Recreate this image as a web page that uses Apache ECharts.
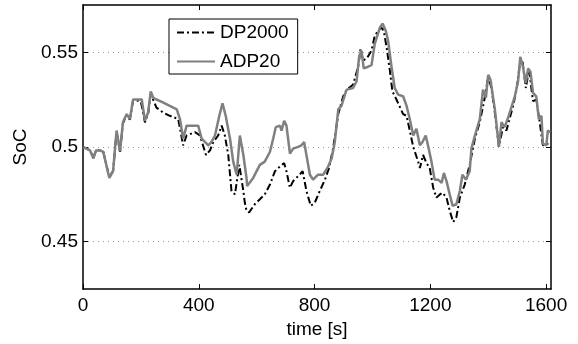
<!DOCTYPE html>
<html><head><meta charset="utf-8">
<script src="https://cdn.jsdelivr.net/npm/echarts@6/dist/echarts.min.js"></script>
<style>html,body{margin:0;padding:0;background:#fff}#c{width:578px;height:344px}</style>
</head><body><div id="c"></div>
<script>
const xTicks = [0, 400, 800, 1200, 1600];
const yTicks = [0.45, 0.5, 0.55];
const seriesNames = ['DP2000', 'ADP20'];

const dpTime = [1,24,36,45,59,70,91,104,116,128,138,151,162,173,190,200,214,225,234,254,277,300,329,346,358,387,404,425,439,450,467,479,490,502,513,525,540,554,559,565,574,594,611,628,646,663,680,695,703,715,726,743,759,772,787,801,818,836,850,864,882,899,911,933,951,959,968,980,997,1008,1020,1031,1039,1049,1060,1069,1083,1106,1118,1129,1141,1158,1164,1175,1187,1198,1210,1221,1233,1242,1256,1267,1279,1290,1302,1319,1336,1354,1371,1388,1400,1411,1423,1437,1451,1463,1486,1498,1509,1518,1530,1541,1555,1566,1578,1589,1606,1615];
const dpSoC = [0.500,0.4983,0.4945,0.4982,0.4983,0.4975,0.4840,0.4875,0.5080,0.4975,0.5125,0.5170,0.5145,0.5245,0.5245,0.5240,0.5130,0.5175,0.5280,0.5208,0.5182,0.5165,0.5148,0.5009,0.5061,0.5079,0.5061,0.4958,0.4983,0.5027,0.5061,0.5113,0.5061,0.4958,0.4768,0.4750,0.4906,0.4768,0.4707,0.4664,0.4655,0.4699,0.4724,0.4750,0.4802,0.4872,0.4897,0.4915,0.4872,0.4785,0.4820,0.4846,0.4872,0.4768,0.4690,0.4707,0.4768,0.4828,0.4889,0.4992,0.5174,0.5268,0.5303,0.5329,0.5424,0.5519,0.5458,0.5467,0.5510,0.5588,0.5614,0.5631,0.5614,0.5527,0.5407,0.5294,0.5251,0.5174,0.5165,0.5087,0.5001,0.4923,0.4889,0.4958,0.4915,0.4889,0.4785,0.4733,0.4750,0.4759,0.4733,0.4664,0.4604,0.4630,0.4733,0.4802,0.4906,0.5044,0.5131,0.5260,0.5372,0.5313,0.5182,0.5001,0.5105,0.5087,0.5217,0.5303,0.5433,0.5458,0.5312,0.5407,0.5242,0.5251,0.5131,0.5009,0.5018,0.5027];

const adpTime = [1,24,36,45,59,70,91,104,116,128,138,151,162,173,190,203,214,225,234,243,254,276,300,324,335,346,358,398,410,421,433,444,456,471,482,493,508,519,531,542,554,565,567,588,611,628,646,657,666,680,686,695,703,715,726,743,755,764,772,784,795,812,830,847,859,870,882,893,905,911,933,945,954,962,970,985,997,1008,1026,1035,1046,1054,1066,1077,1089,1106,1118,1129,1141,1152,1164,1173,1184,1192,1204,1215,1227,1239,1247,1256,1267,1277,1290,1302,1311,1323,1336,1342,1354,1371,1382,1392,1400,1408,1423,1434,1437,1446,1457,1469,1492,1503,1511,1520,1530,1538,1546,1555,1566,1575,1584,1589,1601,1606,1615];
const adpSoC = [0.500,0.4983,0.4940,0.4982,0.4983,0.4975,0.4837,0.4873,0.5087,0.4977,0.5132,0.5174,0.5148,0.5251,0.5251,0.5251,0.5139,0.5182,0.5294,0.5260,0.5251,0.5236,0.5217,0.5199,0.5148,0.5044,0.5113,0.5113,0.5044,0.5027,0.5009,0.5027,0.5061,0.5165,0.5231,0.5165,0.5044,0.4923,0.4854,0.5061,0.4958,0.4837,0.4794,0.4837,0.4906,0.4923,0.4975,0.5044,0.5105,0.5113,0.5087,0.5139,0.5113,0.4966,0.4992,0.5001,0.5009,0.5027,0.4958,0.4854,0.4828,0.4854,0.4854,0.4897,0.4940,0.5027,0.5199,0.5217,0.5277,0.5303,0.5312,0.5346,0.5476,0.5510,0.5415,0.5424,0.5433,0.5545,0.5631,0.5652,0.5614,0.5562,0.5424,0.5312,0.5277,0.5268,0.5217,0.5148,0.5061,0.5096,0.5009,0.5027,0.5061,0.5009,0.4923,0.4828,0.4828,0.4811,0.4863,0.4820,0.4750,0.4690,0.4698,0.4768,0.4854,0.4828,0.4872,0.4992,0.5061,0.5148,0.5303,0.5260,0.5381,0.5355,0.5199,0.5044,0.5001,0.5131,0.5105,0.5156,0.5268,0.5346,0.5476,0.5424,0.5338,0.5415,0.5398,0.5286,0.5268,0.5148,0.5165,0.5018,0.5009,0.5087,0.5079];

const xMin = 0, xMax = 1617, yMin = 0.425, yMax = 0.575;
const FONT = "'Liberation Sans', Arial, Helvetica, sans-serif";

function pairs(t, v) { return t.map((x, i) => [x, v[i]]); }

const tickStyle = { show: true, inside: true, length: 5, lineStyle: { color: '#000', width: 1 } };
const axisLine = { show: true, onZero: false, lineStyle: { color: '#000', width: 1.5 } };

const chart = echarts.init(document.getElementById('c'), null, { renderer: 'canvas' });
chart.setOption({
  animation: false,
  backgroundColor: '#fff',
  textStyle: { fontFamily: FONT },
  grid: { left: 83, right: 27, top: 5, bottom: 52 },
  legend: {
    orient: 'vertical', left: 169, top: 19,
    data: seriesNames,
    backgroundColor: '#fff', borderColor: '#000', borderWidth: 1,
    padding: [4, 9, 3, 7], itemWidth: 38, itemHeight: 14, itemGap: 10,
    itemStyle: { opacity: 0 },
    textStyle: { fontSize: 19, color: '#000', fontFamily: FONT }
  },
  xAxis: [
    { type: 'value', position: 'bottom', min: xMin, max: xMax,
      name: 'time [s]', nameLocation: 'middle', nameGap: 27,
      nameTextStyle: { fontSize: 19, color: '#000', fontFamily: FONT },
      axisLine: axisLine,
      axisTick: Object.assign({ customValues: xTicks }, tickStyle),
      axisLabel: { customValues: xTicks, fontSize: 19, color: '#000', margin: 7, fontFamily: FONT,
                   formatter: v => String(Math.round(v)) },
      splitLine: { show: false } },
    { type: 'value', position: 'top', min: xMin, max: xMax,
      axisLine: axisLine,
      axisTick: Object.assign({ customValues: xTicks }, tickStyle),
      axisLabel: { show: false }, splitLine: { show: false } }
  ],
  yAxis: [
    { type: 'value', position: 'left', min: yMin, max: yMax,
      name: 'SoC', nameLocation: 'middle', nameGap: 49,
      nameTextStyle: { fontSize: 19, color: '#000', fontFamily: FONT },
      axisLine: axisLine,
      axisTick: Object.assign({ customValues: yTicks }, tickStyle),
      axisLabel: { customValues: yTicks, fontSize: 19, color: '#000', margin: 5, fontFamily: FONT,
                   formatter: v => String(+v.toFixed(3)) },
      splitLine: { show: true, lineStyle: { color: '#9a9a9a', width: 1, type: [1, 4] } } },
    { type: 'value', position: 'right', min: yMin, max: yMax,
      axisLine: axisLine,
      axisTick: Object.assign({ customValues: yTicks }, tickStyle),
      axisLabel: { show: false }, splitLine: { show: false } }
  ],
  series: [
    { name: seriesNames[0], type: 'line', xAxisIndex: 0, yAxisIndex: 0,
      data: pairs(dpTime, dpSoC), symbol: 'none', showSymbol: false,
      lineStyle: { color: '#000', width: 2, type: [7, 3, 2, 3] }, itemStyle: { color: '#000' } },
    { name: seriesNames[1], type: 'line', xAxisIndex: 0, yAxisIndex: 0,
      data: pairs(adpTime, adpSoC), symbol: 'none', showSymbol: false,
      lineStyle: { color: '#808080', width: 2.5 }, itemStyle: { color: '#808080' } }
  ]
});
</script></body></html>
